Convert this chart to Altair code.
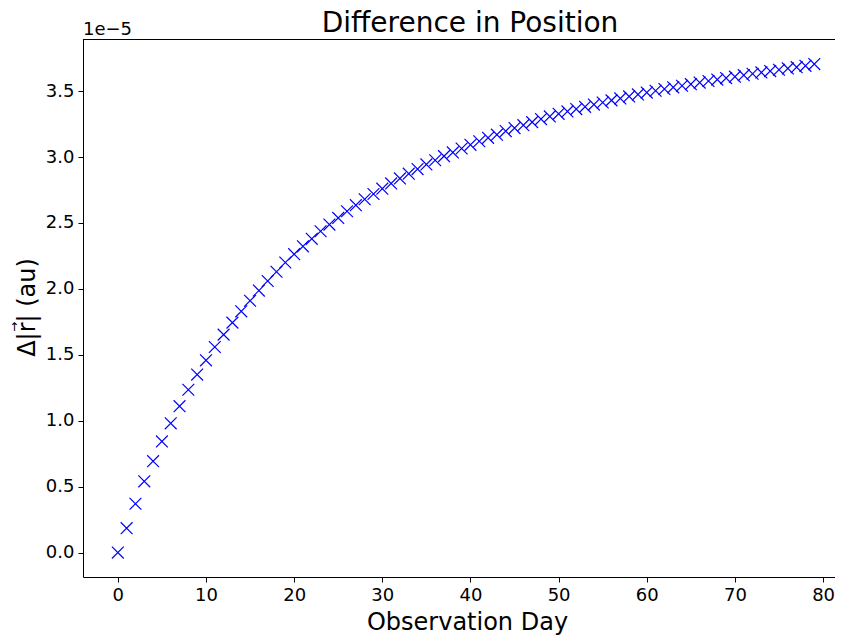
import altair as alt
import pandas as pd

# Observation day and position difference (units of 1e-5 au)
days = list(range(80))
delta_r = [
    0.000, 0.185, 0.370, 0.540, 0.693, 0.843, 0.980, 1.110, 1.235, 1.350,
    1.458, 1.559, 1.653, 1.744, 1.830, 1.910, 1.987, 2.060, 2.130, 2.200,
    2.263, 2.323, 2.380, 2.437, 2.488, 2.538, 2.589, 2.635, 2.680, 2.720,
    2.760, 2.800, 2.838, 2.874, 2.909, 2.944, 2.976, 3.007, 3.035, 3.065,
    3.093, 3.120, 3.146, 3.170, 3.197, 3.220, 3.242, 3.265, 3.288, 3.308,
    3.328, 3.346, 3.364, 3.381, 3.398, 3.414, 3.430, 3.445, 3.460, 3.475,
    3.489, 3.503, 3.516, 3.529, 3.541, 3.553, 3.565, 3.577, 3.588, 3.599,
    3.610, 3.621, 3.632, 3.642, 3.652, 3.662, 3.672, 3.682, 3.692, 3.705,
]
x_ticks = [0, 10, 20, 30, 40, 50, 60, 70, 80]
y_ticks = [0.0, 0.5, 1.0, 1.5, 2.0, 2.5, 3.0, 3.5]
title_text = "Difference in Position"
x_title = "Observation Day"
y_title = "Δ|r| (au)"
offset_label = "1e−5"

df = pd.DataFrame({"day": days, "dr": delta_r})

FONT = "DejaVu Sans"
W, H = 752, 538

xscale = alt.Scale(domain=[-3.95, 81.35], nice=False, zero=False)
yscale = alt.Scale(domain=[-0.1855, 3.8955], nice=False, zero=False)

points = alt.Chart(df).mark_point(
    shape="M-1,-1L1,1M-1,1L1,-1",
    filled=False,
    stroke="#0000ff",
    strokeWidth=1.2,
    size=140,
    opacity=1,
    clip=True,
).encode(
    x=alt.X("day:Q", scale=xscale,
            axis=alt.Axis(values=x_ticks, format="d", title=x_title,
                          titleX=384, titleY=52, titleBaseline="alphabetic",
                          titleAlign="center")),
    y=alt.Y("dr:Q", scale=yscale,
            axis=alt.Axis(values=y_ticks, format=".1f", title=y_title,
                          titleX=-49, titleY=268, titleBaseline="alphabetic",
                          titleAngle=270, titleAlign="center")),
)

top_line = alt.Chart(df).mark_rule(color="black", strokeWidth=1).encode(
    x=alt.value(0), x2=alt.value(W), y=alt.value(0.5)
)

def label(text, **kw):
    return alt.Chart(pd.DataFrame({"t": [text]})).mark_text(
        font=FONT, color="black", **kw
    )

offset_text = label(offset_label, align="left", baseline="alphabetic",
                    fontSize=18).encode(x=alt.value(0), y=alt.value(-4), text="t:N")

title_mark = label(title_text, align="center", baseline="alphabetic",
                   fontSize=28).encode(x=alt.value(387), y=alt.value(-7), text="t:N")

arrow_mark = label("→", align="center", baseline="middle", angle=270,
                   fontSize=12).encode(x=alt.value(-69.5), y=alt.value(288), text="t:N")

chart = alt.layer(points, top_line, offset_text, title_mark, arrow_mark).properties(
    width=W,
    height=H,
    autosize=alt.AutoSizeParams(type="none"),
    padding={"left": 75, "top": 31, "right": 0, "bottom": 58},
).configure_view(
    stroke=None
).configure_axis(
    labelFont=FONT, titleFont=FONT, labelFontSize=18, titleFontSize=24,
    titleFontWeight="normal", labelColor="black", titleColor="black",
    domainColor="black", tickColor="black", domainWidth=1, tickWidth=1,
    tickSize=5, labelPadding=4, grid=False,
)

chart.save("out.html", embed_options={"renderer": "svg", "actions": False})
